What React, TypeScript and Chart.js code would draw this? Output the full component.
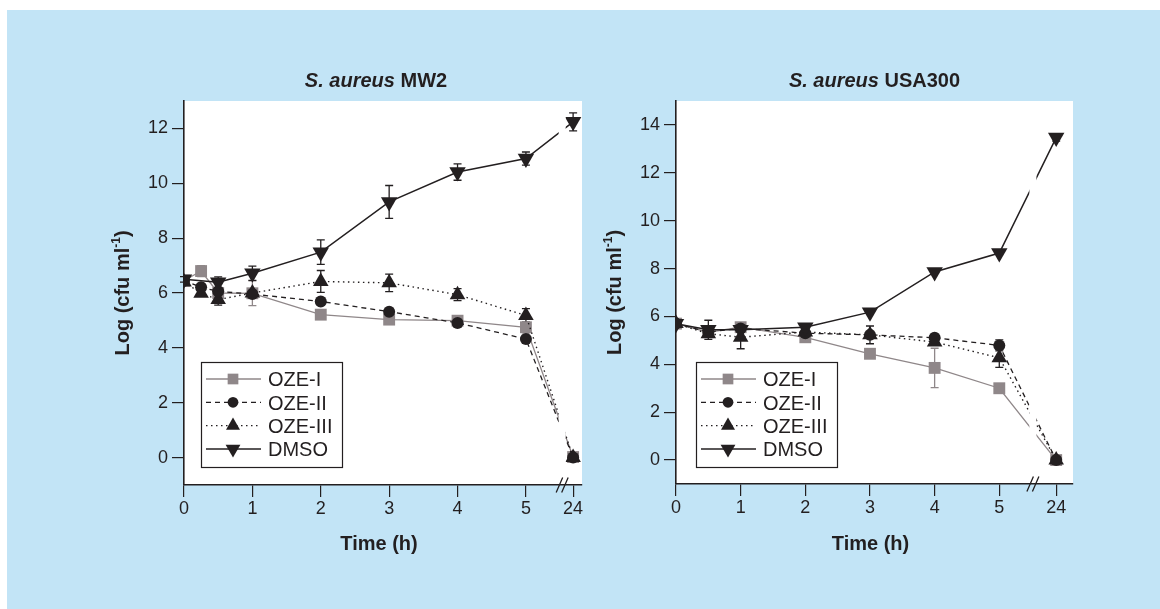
import React, { useEffect, useRef } from 'react';
import { Chart, registerables } from 'chart.js';

Chart.register(...registerables);

// ---------- data ----------
const SERIES_NAMES = ['OZE-I', 'OZE-II', 'OZE-III', 'DMSO'];
const X_TICK_HOURS = [0, 1, 2, 3, 4, 5, 24];

// S. aureus MW2
const MW2_TIMES = [0, 0.25, 0.5, 1, 2, 3, 4, 5, 24];
const MW2_OZE1 = [6.45, 6.8, 6.0, 5.99, 5.21, 5.03, 4.99, 4.75, 0.02];
const MW2_OZE2 = [6.45, 6.21, 6.06, 5.96, 5.69, 5.32, 4.91, 4.32, 0.0];
const MW2_OZE3 = [6.4, 5.99, 5.76, 6.0, 6.42, 6.37, 5.94, 5.18, 0.0];
const MW2_DMSO = [6.5, null, 6.39, 6.72, 7.49, 9.32, 10.41, 10.9, 12.24];
const MW2_OZE1_ERR = [0, 0.2, 0, 0.45, 0, 0, 0, 0.2, 0];
const MW2_OZE2_ERR = [0, 0, 0, 0, 0, 0, 0, 0, 0];
const MW2_OZE3_ERR = [0, 0, 0.2, 0, 0.4, 0.32, 0.22, 0.25, 0];
const MW2_DMSO_ERR = [0.1, 0, 0.2, 0.26, 0.45, 0.6, 0.3, 0.24, 0.33];
const MW2_Y_TICKS = [0, 2, 4, 6, 8, 10, 12];

// S. aureus USA300
const USA_TIMES = [0, 0.5, 1, 2, 3, 4, 5, 24];
const USA_OZE1 = [5.7, 5.34, 5.55, 5.13, 4.44, 3.85, 3.0, 0.0];
const USA_OZE2 = [5.7, 5.35, 5.5, 5.3, 5.23, 5.11, 4.79, 0.0];
const USA_OZE3 = [5.7, 5.28, 5.13, 5.35, 5.23, 4.93, 4.27, 0.0];
const USA_DMSO = [5.69, 5.44, 5.44, 5.55, 6.18, 7.86, 8.65, 13.47];
const USA_OZE1_ERR = [0, 0, 0, 0, 0, 0.82, 0, 0];
const USA_OZE2_ERR = [0, 0, 0, 0, 0, 0, 0.23, 0];
const USA_OZE3_ERR = [0, 0, 0.48, 0, 0.37, 0, 0.4, 0];
const USA_DMSO_ERR = [0, 0.4, 0, 0.15, 0, 0, 0, 0.15];
const USA_Y_TICKS = [0, 2, 4, 6, 8, 10, 12, 14];

// ---------- styles ----------
const FONT = "'Liberation Sans', Arial, Helvetica, sans-serif";
const INK = '#231f20';
const GRAY = '#8f8789';
const BLUE = '#c2e4f6';

type Style = { color: string; dash: number[]; shape: string; radius: number; rotation: number; width: number };
const STYLES: Style[] = [
  { color: GRAY, dash: [], shape: 'rect', radius: 8.4, rotation: 0, width: 1.3 },
  { color: INK, dash: [5, 4], shape: 'circle', radius: 6, rotation: 0, width: 1.3 },
  { color: INK, dash: [1.5, 3.5], shape: 'triangle', radius: 9, rotation: 0, width: 1.4 },
  { color: INK, dash: [], shape: 'triangle', radius: 9.5, rotation: 180, width: 1.5 },
];
const DRAW_ORDER = [3, 1, 2, 0];

type Panel = {
  strain: string;
  times: number[];
  series: (number | null)[][];
  errs: number[][];
  yMin: number;
  yMax: number;
  yTicks: number[];
  pos24: number;
  breakPos: number;
  xMax: number;
  canvasLeft: number;
  canvasW: number;
  areaLeft: number;
  areaRight: number;
  areaBottom: number;
  legendDX: number;
  titleDX: number;
};

const PANELS: Panel[] = [
  {
    strain: 'MW2', times: MW2_TIMES,
    series: [MW2_OZE1, MW2_OZE2, MW2_OZE3, MW2_DMSO],
    errs: [MW2_OZE1_ERR, MW2_OZE2_ERR, MW2_OZE3_ERR, MW2_DMSO_ERR],
    yMin: -1, yMax: 13, yTicks: MW2_Y_TICKS, pos24: 5.69, breakPos: 5.53, xMax: 5.82,
    canvasLeft: 0, canvasW: 600, areaLeft: 184, areaRight: 582, areaBottom: 485, legendDX: 17, titleDX: -7,
  },
  {
    strain: 'USA300', times: USA_TIMES,
    series: [USA_OZE1, USA_OZE2, USA_OZE3, USA_DMSO],
    errs: [USA_OZE1_ERR, USA_OZE2_ERR, USA_OZE3_ERR, USA_DMSO_ERR],
    yMin: -1, yMax: 15, yTicks: USA_Y_TICKS, pos24: 5.88, breakPos: 5.52, xMax: 6.14,
    canvasLeft: 590, canvasW: 570, areaLeft: 676, areaRight: 1073, areaBottom: 484, legendDX: 20, titleDX: 0,
  },
];

const PAGE_H = 609;
const AREA_TOP = 101;

function drawMarker(ctx: CanvasRenderingContext2D, st: Style, x: number, y: number) {
  const r = st.radius;
  ctx.save();
  ctx.fillStyle = st.color;
  ctx.beginPath();
  if (st.shape === 'circle') {
    ctx.arc(x, y, r, 0, Math.PI * 2);
  } else if (st.shape === 'rect') {
    const s = Math.SQRT1_2 * r;
    ctx.rect(x - s, y - s, 2 * s, 2 * s);
  } else {
    const d = st.rotation === 180 ? -1 : 1;
    ctx.moveTo(x, y - d * r);
    ctx.lineTo(x + 0.866 * r, y + d * 0.5 * r);
    ctx.lineTo(x - 0.866 * r, y + d * 0.5 * r);
    ctx.closePath();
  }
  ctx.fill();
  ctx.restore();
}

function makePlugin(p: Panel) {
  const toPos = (t: number) => (t === 24 ? p.pos24 : t);
  return {
    id: 'panelDecor',
    beforeDraw(chart: any) {
      const { ctx, chartArea: a } = chart;
      ctx.save();
      ctx.fillStyle = '#ffffff';
      ctx.fillRect(a.left, a.top, a.right - a.left, a.bottom - a.top);
      ctx.restore();
    },
    beforeDatasetsDraw(chart: any) {
      const { ctx } = chart;
      const xs = chart.scales.x;
      const ys = chart.scales.y;
      ctx.save();
      p.series.forEach((vals, i) => {
        const st = STYLES[i];
        ctx.strokeStyle = st.color;
        ctx.lineWidth = 1.3;
        ctx.setLineDash([]);
        vals.forEach((v, j) => {
          const e = p.errs[i][j];
          if (v === null || !e) return;
          const x = xs.getPixelForValue(toPos(p.times[j]));
          const y1 = ys.getPixelForValue(v + e);
          const y2 = ys.getPixelForValue(v - e);
          ctx.beginPath();
          ctx.moveTo(x, y1); ctx.lineTo(x, y2);
          ctx.moveTo(x - 4, y1); ctx.lineTo(x + 4, y1);
          ctx.moveTo(x - 4, y2); ctx.lineTo(x + 4, y2);
          ctx.stroke();
        });
      });
      ctx.restore();
    },
    afterDatasetsDraw(chart: any) {
      const { ctx, chartArea: a } = chart;
      const bx = chart.scales.x.getPixelForValue(p.breakPos);
      ctx.save();
      ctx.fillStyle = '#ffffff';
      ctx.fillRect(bx - 3.5, a.top, 7, a.bottom - a.top - 2);
      ctx.restore();
    },
    afterDraw(chart: any) {
      const { ctx, chartArea: a } = chart;
      const bx = chart.scales.x.getPixelForValue(p.breakPos);
      ctx.save();
      // axis break marks
      ctx.strokeStyle = INK;
      ctx.lineWidth = 1.3;
      ctx.beginPath();
      ctx.moveTo(bx - 6, a.bottom + 7.5); ctx.lineTo(bx + 0.5, a.bottom - 7.5);
      ctx.moveTo(bx - 0.5, a.bottom + 7.5); ctx.lineTo(bx + 6, a.bottom - 7.5);
      ctx.stroke();

      // title
      const cx = (a.left + a.right) / 2 + p.titleDX;
      ctx.fillStyle = INK;
      ctx.textBaseline = 'alphabetic';
      ctx.textAlign = 'left';
      const f1 = `italic bold 20px ${FONT}`;
      const f2 = `bold 20px ${FONT}`;
      ctx.font = f1;
      const w1 = ctx.measureText('S. aureus').width;
      ctx.font = f2;
      const t2 = ' ' + p.strain;
      const w2 = ctx.measureText(t2).width;
      const x0 = cx - (w1 + w2) / 2;
      ctx.font = f1;
      ctx.fillText('S. aureus', x0, 87);
      ctx.font = f2;
      ctx.fillText(t2, x0 + w1, 87);

      // x axis title
      ctx.textAlign = 'center';
      ctx.textBaseline = 'middle';
      ctx.font = `bold 20px ${FONT}`;
      ctx.fillText('Time (h)', (a.left + a.right) / 2 - 4, 544);

      // y axis title with superscript
      ctx.save();
      ctx.translate(a.left - 62, (a.top + a.bottom) / 2);
      ctx.rotate(-Math.PI / 2);
      ctx.textAlign = 'left';
      ctx.textBaseline = 'middle';
      const mainF = `bold 20px ${FONT}`;
      const supF = `bold 12px ${FONT}`;
      ctx.font = mainF;
      const pA = 'Log (cfu ml';
      const pC = ')';
      const wA = ctx.measureText(pA).width;
      const wC = ctx.measureText(pC).width;
      ctx.font = supF;
      const pB = '-1';
      const wB = ctx.measureText(pB).width;
      const total = wA + wB + wC;
      const sx = -total / 2;
      ctx.font = mainF;
      ctx.fillText(pA, sx, 1);
      ctx.font = supF;
      ctx.fillText(pB, sx + wA, -5);
      ctx.font = mainF;
      ctx.fillText(pC, sx + wA + wB, 1);
      ctx.restore();

      // legend
      const lx = a.left + p.legendDX;
      const ly = a.top + 261;
      ctx.fillStyle = '#ffffff';
      ctx.fillRect(lx, ly, 141, 105);
      ctx.strokeStyle = INK;
      ctx.lineWidth = 1.2;
      ctx.setLineDash([]);
      ctx.strokeRect(lx + 0.5, ly + 0.5, 141, 105);
      SERIES_NAMES.forEach((name, i) => {
        const st = STYLES[i];
        const ry = ly + 17 + 23.3 * i;
        ctx.save();
        ctx.strokeStyle = st.color;
        ctx.lineWidth = st.width;
        ctx.setLineDash(st.dash);
        ctx.beginPath();
        ctx.moveTo(lx + 5, ry);
        ctx.lineTo(lx + 60, ry);
        ctx.stroke();
        ctx.restore();
        drawMarker(ctx, { ...st, radius: st.radius * 0.9 }, lx + 32, ry);
        ctx.fillStyle = INK;
        ctx.font = `20px ${FONT}`;
        ctx.textAlign = 'left';
        ctx.textBaseline = 'alphabetic';
        ctx.fillText(name, lx + 67, ry + 7.3);
      });
      ctx.restore();
    },
  };
}

function PanelChart({ p }: { p: Panel }) {
  const ref = useRef<HTMLCanvasElement>(null);
  useEffect(() => {
    if (!ref.current) return;
    const toPos = (t: number) => (t === 24 ? p.pos24 : t);
    const datasets = p.series.map((vals, i) => {
      const st = STYLES[i];
      const pts: { x: number; y: number }[] = [];
      vals.forEach((v, j) => {
        if (v !== null) pts.push({ x: toPos(p.times[j]), y: v });
      });
      return {
        label: SERIES_NAMES[i],
        data: pts,
        borderColor: st.color,
        backgroundColor: st.color,
        borderWidth: st.width,
        borderDash: st.dash,
        pointStyle: st.shape === 'rect' ? 'rect' : st.shape === 'circle' ? 'circle' : 'triangle',
        pointRotation: st.rotation,
        pointRadius: st.radius,
        pointBorderWidth: 0,
        pointBackgroundColor: st.color,
        tension: 0,
        order: DRAW_ORDER.indexOf(i),
      };
    });
    const tickFont = { family: FONT, size: 18 };
    const chart = new Chart(ref.current, {
      type: 'line',
      data: { datasets } as any,
      options: {
        responsive: false,
        animation: false,
        devicePixelRatio: 1,
        layout: { padding: { left: 0, top: AREA_TOP, right: p.canvasW - (p.areaRight - p.canvasLeft), bottom: 0 } },
        plugins: { legend: { display: false }, tooltip: { enabled: false }, title: { display: false } },
        scales: {
          x: {
            type: 'linear',
            min: 0,
            max: p.xMax,
            afterBuildTicks: (s: any) => { s.ticks = X_TICK_HOURS.map((h) => ({ value: toPos(h) })); },
            afterFit: (s: any) => { s.height = PAGE_H - p.areaBottom; },
            ticks: {
              callback: (_v: any, i: number) => String(X_TICK_HOURS[i]),
              font: tickFont, color: INK, padding: 1, autoSkip: false, maxRotation: 0,
            },
            grid: { display: true, drawOnChartArea: false, drawTicks: true, tickLength: 12, color: INK, lineWidth: 1.2 },
            border: { display: true, color: INK, width: 1.6 },
          },
          y: {
            type: 'linear',
            min: p.yMin,
            max: p.yMax,
            afterBuildTicks: (s: any) => { s.ticks = p.yTicks.map((v) => ({ value: v })); },
            afterFit: (s: any) => { s.width = p.areaLeft - p.canvasLeft; },
            ticks: { font: tickFont, color: INK, padding: 4, autoSkip: false, callback: (v: any) => String(v) },
            grid: { display: true, drawOnChartArea: false, drawTicks: true, tickLength: 12, color: INK, lineWidth: 1.2 },
            border: { display: true, color: INK, width: 1.6 },
          },
        },
      } as any,
      plugins: [makePlugin(p)],
    });
    return () => chart.destroy();
  }, []);
  return (
    <canvas
      ref={ref}
      width={p.canvasW}
      height={PAGE_H}
      style={{ position: 'absolute', left: p.canvasLeft, top: 0, width: p.canvasW, height: PAGE_H }}
    />
  );
}

export default function App() {
  return (
    <div style={{ position: 'absolute', left: 0, top: 0, width: 1160, height: PAGE_H, overflow: 'hidden', background: '#ffffff' }}>
      <div style={{ position: 'absolute', left: 7, top: 10, right: 0, bottom: 0, background: BLUE }} />
      {PANELS.map((p) => (
        <PanelChart key={p.strain} p={p} />
      ))}
    </div>
  );
}
